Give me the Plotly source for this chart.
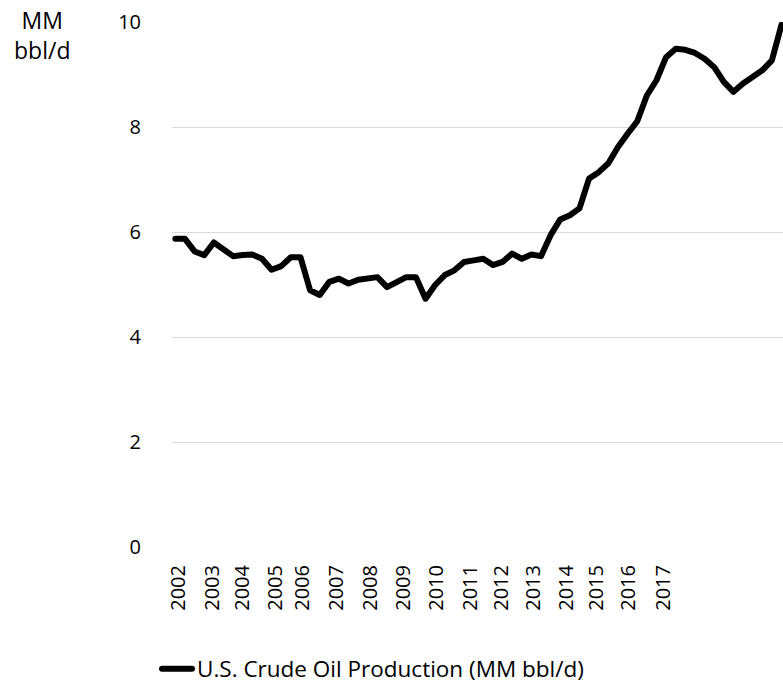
import plotly.graph_objects as go

# Quarterly U.S. crude oil production, 2002 Q1 - 2017 Q4 (MM bbl/d)
quarters = [f"{y} Q{q}" for y in range(2002, 2018) for q in range(1, 5)]
production = [
    5.87, 5.87, 5.63, 5.56, 5.80, 5.67, 5.54, 5.56,
    5.57, 5.49, 5.28, 5.35, 5.52, 5.52, 4.89, 4.80,
    5.05, 5.11, 5.02, 5.09, 5.11, 5.14, 4.95, 5.05,
    5.14, 5.14, 4.73, 4.99, 5.18, 5.27, 5.43, 5.46,
    5.49, 5.37, 5.43, 5.59, 5.49, 5.57, 5.54, 5.94,
    6.24, 6.32, 6.45, 7.02, 7.14, 7.31, 7.62, 7.87,
    8.11, 8.60, 8.89, 9.33, 9.49, 9.47, 9.41, 9.30,
    9.14, 8.86, 8.67, 8.83, 8.97, 9.08, 9.27, 9.95,
]
year_labels = [str(y) for y in range(2002, 2018)]
year_label_pos = [0.34, 3.81, 6.93, 10.38, 13.26, 16.79, 20.25, 23.68,
                  27.18, 30.63, 33.93, 37.18, 40.67, 43.79, 47.07, 50.70]
y_ticks = [0, 2, 4, 6, 8, 10]

FONT = "Open Sans"
W, H = 783, 685
ML, MR, MT, MB = 172, 0, 22, 138
PW, PH = W - ML - MR, H - MT - MB

fig = go.Figure()
fig.add_trace(go.Scatter(
    x=list(range(len(production))),
    y=production,
    mode="lines",
    name="U.S. Crude Oil Production (MM bbl/d)",
    text=quarters,
    line=dict(color="#000000", width=6),
))

fig.update_layout(
    width=W, height=H,
    paper_bgcolor="white", plot_bgcolor="white",
    margin=dict(l=ML, r=MR, t=MT, b=MB, autoexpand=False),
    font=dict(family=FONT, size=20, color="#000000"),
    showlegend=True,
    legend=dict(
        orientation="h", x=(157 - ML) / PW, xanchor="left",
        y=-(669 - (MT + PH)) / PH, yanchor="middle",
        font=dict(family=FONT, size=22.5, color="#000000"),
        bgcolor="rgba(0,0,0,0)",
    ),
    xaxis=dict(
        range=[-0.35, 63.15],
        tickmode="array", tickvals=year_label_pos, ticktext=year_labels,
        tickangle=-90, showgrid=False, zeroline=False, showline=False,
        ticks="", ticklabelstandoff=13, tickfont=dict(family=FONT, size=20),
    ),
    yaxis=dict(
        range=[0, 10], tickmode="array", tickvals=y_ticks,
        showgrid=True, gridcolor="#d9d9d9", gridwidth=1,
        zeroline=False, showline=False, ticks="",
        ticklabelstandoff=30,
        tickfont=dict(family=FONT, size=20),
    ),
    annotations=[dict(
        text="MM<br>bbl/d", xref="paper", yref="paper",
        x=(42 - ML) / PW, xanchor="center",
        y=1 + (MT - 2) / PH, yanchor="top",
        showarrow=False, font=dict(family=FONT, size=23),
    )],
)

post = (
    "document.body.style.margin='0';document.body.style.overflow='hidden';"
    "document.querySelectorAll('path.js-line').forEach(function(p){"
    "p.style.strokeLinejoin='round';p.style.strokeLinecap='round';});"
)

fig.write_html("out.html", config={"displayModeBar": False}, post_script=post)
